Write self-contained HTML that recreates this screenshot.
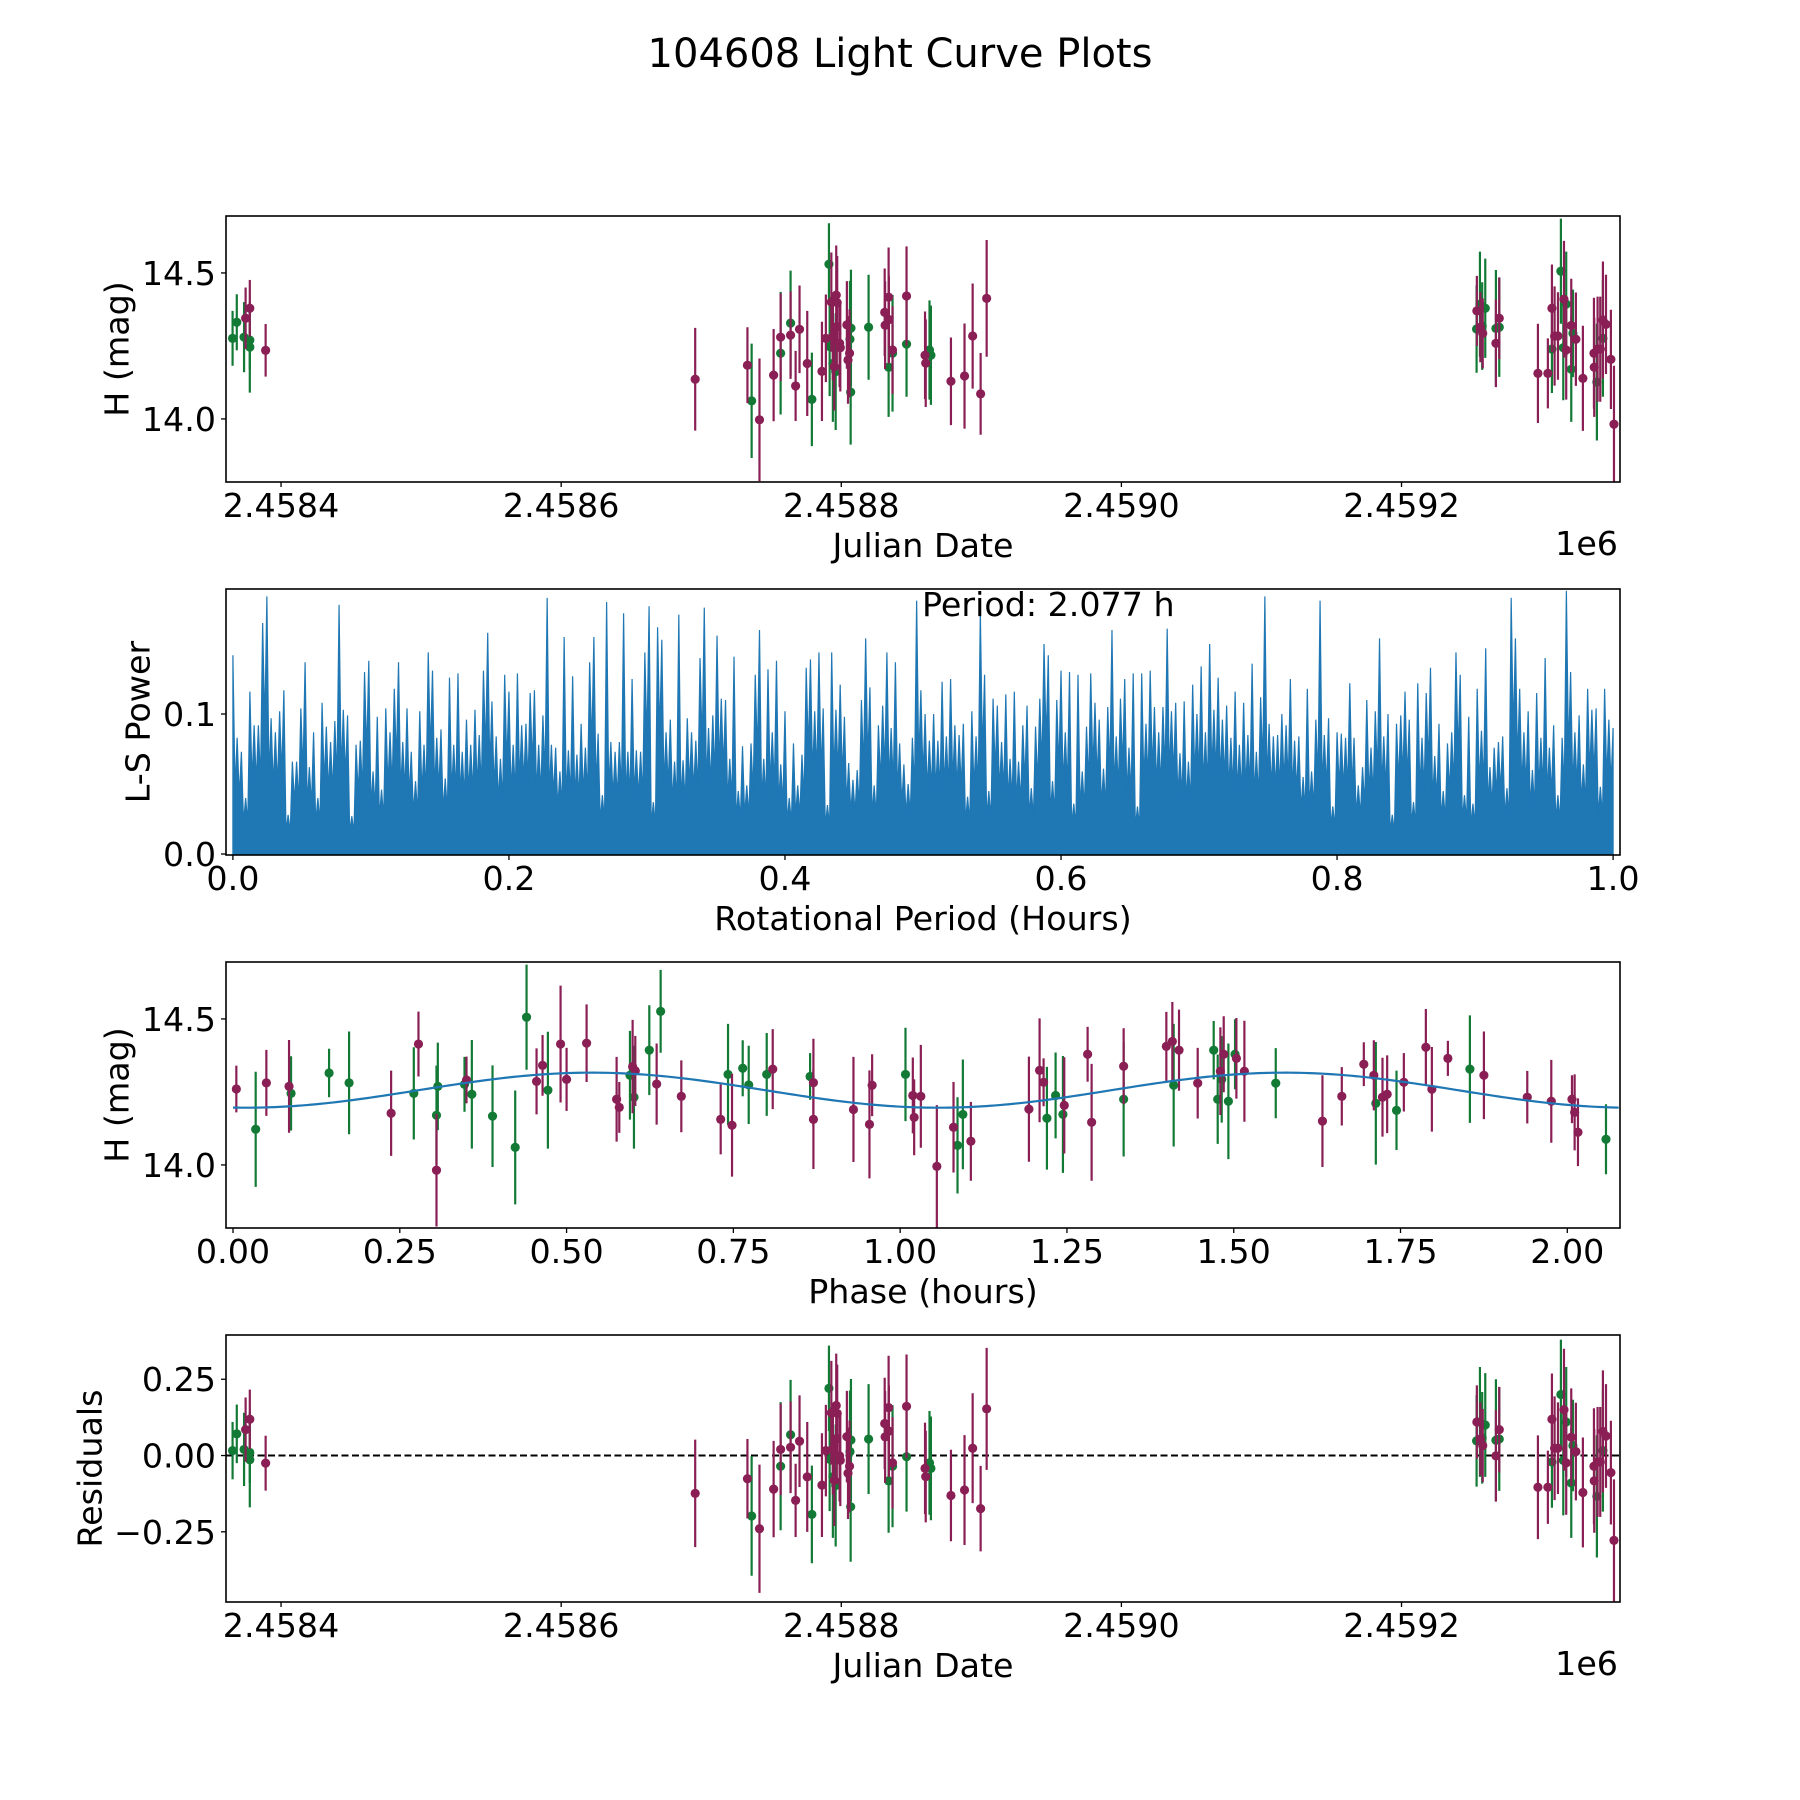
<!DOCTYPE html>
<html><head><meta charset="utf-8"><title>104608 Light Curve Plots</title>
<style>
html,body{margin:0;padding:0;background:#fff;}
svg{display:block;font-family:"DejaVu Sans","Liberation Sans",sans-serif;}
</style></head>
<body>
<svg id="fig" xmlns="http://www.w3.org/2000/svg" width="1800" height="1800" viewBox="0 0 1800 1800">
<rect x="0" y="0" width="1800" height="1800" fill="#fff"/>
<text x="900" y="67" font-size="40" text-anchor="middle">104608 Light Curve Plots</text>
</svg>
<script>
// ---------- data: light curve (Julian Date) ----------
const jdGreen = [2458365.4,2458368.4,2458373.6,2458377.7,2458377.7,2458736,2458756.7,2458763.8,2458779,2458791.2,2458791.7,2458794,2458796,2458806.9,2458806.2,2458806.7,2458819.5,2458833.8,2458836.6,2458846.6,2458863,2458864,2459253.6,2459256,2459257.6,2459259.8,2459267.4,2459269.8,2459307.4,2459313.8,2459315.5,2459317.6,2459321.2,2459322.4,2459339.5,2459343.8];
const magGreen = [14.276,14.331,14.28,14.27,14.246,14.062,14.225,14.328,14.067,14.53,14.248,14.19,14.162,14.311,14.273,14.092,14.314,14.177,14.225,14.256,14.236,14.218,14.308,14.393,14.318,14.379,14.31,14.314,14.239,14.506,14.244,14.393,14.17,14.293,14.126,14.276];
const errGreen = [0.094,0.096,0.12,0.10,0.156,0.196,0.21,0.18,0.16,0.14,0.17,0.2,0.2,0.2,0.2,0.18,0.18,0.17,0.2,0.18,0.17,0.17,0.15,0.18,0.15,0.17,0.2,0.17,0.15,0.18,0.18,0.18,0.18,0.15,0.2,0.2];
const jdPurple = [2458374.7,2458377.7,2458389,2458695.7,2458733,2458741.6,2458751.7,2458756.7,2458763.8,2458767.4,2458770.2,2458775.7,2458786.2,2458789,2458792.9,2458794,2458795,2458796.4,2458797.1,2458796.8,2458798.8,2458799.3,2458804,2458804.8,2458805.9,2458831,2458831.3,2458833.8,2458834,2458836.6,2458846.6,2458859.8,2458860.3,2458878.3,2458888,2458893.8,2458899.5,2458903.8,2459253.8,2459256.3,2459258,2459267.4,2459269.8,2459297.4,2459304.5,2459307.4,2459309.3,2459311.7,2459316,2459317.6,2459321.2,2459324.5,2459329.5,2459337.4,2459337.6,2459340,2459341.9,2459343.8,2459346,2459349.5,2459351.7];
const magPurple = [14.345,14.379,14.235,14.136,14.184,13.997,14.15,14.28,14.287,14.113,14.307,14.19,14.163,14.276,14.40,14.282,14.179,14.424,14.398,14.316,14.259,14.244,14.322,14.202,14.225,14.365,14.321,14.417,14.34,14.236,14.421,14.218,14.191,14.129,14.147,14.284,14.086,14.413,14.370,14.314,14.293,14.259,14.345,14.156,14.156,14.379,14.284,14.284,14.41,14.236,14.32,14.273,14.139,14.225,14.177,14.239,14.239,14.339,14.324,14.204,13.982];
const errPurple = [0.105,0.097,0.09,0.176,0.13,0.21,0.158,0.15,0.15,0.12,0.15,0.18,0.17,0.15,0.17,0.15,0.15,0.17,0.16,0.15,0.15,0.15,0.15,0.15,0.15,0.15,0.15,0.17,0.15,0.15,0.17,0.15,0.15,0.15,0.18,0.18,0.14,0.2,0.12,0.12,0.12,0.15,0.14,0.17,0.12,0.15,0.17,0.15,0.2,0.17,0.16,0.16,0.18,0.19,0.17,0.18,0.18,0.2,0.17,0.17,0.2];
// ---------- data: residuals ----------
const residGreen = [0.016,0.071,0.02,0.01,-0.014,-0.198,-0.035,0.068,-0.193,0.22,-0.012,-0.07,-0.098,0.051,0.013,-0.168,0.054,-0.083,-0.035,-0.004,-0.024,-0.042,0.048,0.11,0.058,0.10,0.05,0.054,-0.021,0.20,-0.016,0.11,-0.09,0.033,-0.134,0.016];
const residPurple = [0.085,0.119,-0.025,-0.124,-0.076,-0.24,-0.11,0.02,0.027,-0.147,0.047,-0.07,-0.097,0.016,0.14,0.022,-0.081,0.164,0.138,0.056,-0.001,-0.016,0.062,-0.058,-0.035,0.105,0.061,0.157,0.08,-0.024,0.161,-0.042,-0.069,-0.131,-0.113,0.024,-0.174,0.153,0.11,0.054,0.033,-0.001,0.085,-0.104,-0.104,0.119,0.024,0.024,0.15,-0.024,0.06,0.013,-0.121,-0.035,-0.083,-0.021,-0.021,0.079,0.064,-0.056,-0.278];
// ---------- data: phased light curve ----------
const phaseGreen = [0.034,0.087,0.144,0.174,0.271,0.305,0.307,0.347,0.358,0.389,0.423,0.44,0.472,0.595,0.601,0.624,0.641,0.742,0.764,0.773,0.8,0.865,1.008,1.086,1.094,1.22,1.233,1.244,1.335,1.41,1.47,1.476,1.482,1.492,1.502,1.563,1.713,1.744,1.854,2.058];
const phMagGreen = [14.122,14.245,14.315,14.281,14.245,14.17,14.269,14.276,14.242,14.167,14.06,14.506,14.256,14.307,14.232,14.393,14.526,14.31,14.331,14.274,14.31,14.303,14.31,14.067,14.173,14.16,14.238,14.173,14.225,14.273,14.393,14.225,14.293,14.218,14.379,14.28,14.211,14.187,14.328,14.088];
const phErrGreen = [0.197,0.127,0.083,0.176,0.158,0.17,0.15,0.094,0.186,0.174,0.195,0.18,0.2,0.152,0.176,0.154,0.142,0.173,0.096,0.134,0.142,0.08,0.16,0.165,0.188,0.176,0.147,0.2,0.196,0.21,0.1,0.153,0.148,0.198,0.12,0.12,0.21,0.136,0.184,0.12];
const phasePurple = [0.005,0.05,0.084,0.237,0.278,0.305,0.35,0.455,0.464,0.491,0.5,0.53,0.575,0.579,0.599,0.603,0.635,0.672,0.731,0.748,0.809,0.87,0.87,0.93,0.954,0.958,1.019,1.021,1.031,1.055,1.08,1.106,1.193,1.209,1.215,1.246,1.281,1.287,1.335,1.399,1.408,1.418,1.446,1.48,1.485,1.504,1.516,1.633,1.662,1.695,1.71,1.723,1.73,1.755,1.788,1.797,1.821,1.875,1.94,1.976,2.007,2.011,2.016];
const phMagPurple = [14.26,14.281,14.269,14.177,14.414,13.982,14.291,14.286,14.341,14.414,14.293,14.417,14.225,14.197,14.337,14.322,14.277,14.235,14.156,14.136,14.328,14.282,14.156,14.19,14.139,14.273,14.238,14.163,14.235,13.995,14.129,14.081,14.191,14.324,14.283,14.204,14.379,14.146,14.338,14.406,14.423,14.393,14.28,14.321,14.379,14.365,14.321,14.15,14.235,14.345,14.307,14.232,14.242,14.283,14.403,14.259,14.365,14.307,14.232,14.218,14.225,14.18,14.112];
const phErrPurple = [0.08,0.113,0.159,0.146,0.111,0.193,0.08,0.113,0.104,0.2,0.108,0.133,0.145,0.087,0.16,0.12,0.139,0.123,0.12,0.176,0.137,0.15,0.17,0.18,0.185,0.106,0.13,0.13,0.176,0.21,0.155,0.135,0.18,0.178,0.082,0.165,0.094,0.2,0.13,0.118,0.135,0.139,0.121,0.15,0.13,0.138,0.173,0.157,0.1,0.075,0.12,0.135,0.133,0.1,0.131,0.145,0.06,0.15,0.09,0.142,0.082,0.13,0.116];
const modelMean = 14.256;
const modelAmp = 0.06;
const modelPeakPhase = 0.538;
const rotPeriod = 2.077;
// ---------- data: Lomb-Scargle periodogram (evenly sampled over 0..1 h) ----------
const lsPower = [0.142,0.083,0.073,0.040,0.116,0.092,0.092,0.165,0.184,0.097,0.087,0.102,0.117,0.028,0.066,0.066,0.104,0.137,0.062,0.087,0.040,0.108,0.091,0.080,0.095,0.178,0.103,0.099,0.027,0.078,0.081,0.130,0.138,0.059,0.098,0.046,0.104,0.087,0.118,0.137,0.080,0.104,0.073,0.052,0.102,0.078,0.144,0.131,0.083,0.089,0.054,0.126,0.078,0.129,0.073,0.096,0.078,0.103,0.085,0.131,0.158,0.109,0.084,0.068,0.128,0.116,0.078,0.129,0.092,0.093,0.115,0.117,0.078,0.099,0.183,0.078,0.076,0.059,0.155,0.074,0.127,0.071,0.093,0.076,0.137,0.155,0.086,0.042,0.180,0.080,0.073,0.080,0.172,0.073,0.125,0.074,0.073,0.144,0.177,0.037,0.162,0.153,0.087,0.096,0.066,0.171,0.067,0.097,0.087,0.081,0.140,0.176,0.090,0.099,0.156,0.111,0.110,0.068,0.141,0.045,0.077,0.049,0.079,0.128,0.160,0.068,0.132,0.087,0.138,0.064,0.102,0.040,0.079,0.049,0.071,0.133,0.139,0.102,0.144,0.104,0.035,0.144,0.103,0.121,0.098,0.065,0.053,0.060,0.110,0.154,0.119,0.049,0.092,0.106,0.144,0.090,0.137,0.079,0.064,0.050,0.083,0.181,0.117,0.100,0.081,
0.100,0.081,0.123,0.084,0.125,0.092,0.085,0.093,0.041,0.102,0.084,0.173,0.128,0.045,0.111,0.106,0.080,0.114,0.068,0.116,0.066,0.092,0.106,0.047,0.091,0.111,0.150,0.142,0.052,0.110,0.131,0.087,0.130,0.036,0.128,0.059,0.091,0.129,0.108,0.096,0.061,0.105,0.160,0.084,0.111,0.125,0.076,0.129,0.034,0.129,0.093,0.131,0.105,0.087,0.105,0.161,0.102,0.108,0.072,0.109,0.066,0.121,0.100,0.134,0.087,0.150,0.103,0.126,0.096,0.106,0.083,0.116,0.078,0.108,0.085,0.136,0.073,0.112,0.184,0.093,0.084,0.085,0.100,0.092,0.125,0.081,0.084,0.055,0.118,0.059,0.096,0.181,0.085,0.097,0.034,0.087,0.086,0.083,0.122,0.083,0.049,0.062,0.110,0.076,0.102,0.154,0.084,0.100,0.028,0.093,0.099,0.116,0.096,0.037,0.122,0.083,0.115,0.133,0.070,0.093,0.045,0.079,0.087,0.144,0.128,0.042,0.098,0.036,0.118,0.088,0.147,0.062,0.076,0.080,0.084,0.047,0.183,0.154,0.118,0.087,0.102,0.060,0.115,0.083,0.140,0.076,0.092,0.042,0.083,0.188,0.130,0.087,0.099,0.064,0.118,0.103,0.104,0.048,0.118,0.096,0.090];
// ---------- ticks ----------
const jdTicks = [2458400,2458600,2458800,2459000,2459200];
const jdTickLabels = ["2.4584","2.4586","2.4588","2.4590","2.4592"];
const magTicks = [14.0,14.5];
const magTickLabels = ["14.0","14.5"];
const periodTicks = [0,0.2,0.4,0.6,0.8,1.0];
const periodTickLabels = ["0.0","0.2","0.4","0.6","0.8","1.0"];
const powerTicks = [0,0.1];
const powerTickLabels = ["0.0","0.1"];
const phaseTicks = [0,0.25,0.5,0.75,1.0,1.25,1.5,1.75,2.0];
const phaseTickLabels = ["0.00","0.25","0.50","0.75","1.00","1.25","1.50","1.75","2.00"];
const residTicks = [-0.25,0,0.25];
const residTickLabels = ["\u22120.25","0.00","0.25"];

const NS = "http://www.w3.org/2000/svg";
const svg = document.getElementById('fig');
const GREEN = "#137a36", PURPLE = "#8a1f55", BLUE = "#1f77b4";
const L = 226, R = 1620;
function el(tag, attrs, parent){
  const e = document.createElementNS(NS, tag);
  for (const k in attrs) e.setAttribute(k, attrs[k]);
  (parent || svg).appendChild(e);
  return e;
}
function makeAxes(name, top, bottom, xmin, xmax, ymin, ymax){
  const g = el('g', {});
  
  
  const clipId = name + '-clip';
  const cp = el('clipPath', {id: clipId}, g);
  el('rect', {x: L, y: top, width: R - L, height: bottom - top}, cp);
  const sx = v => L + (v - xmin) / (xmax - xmin) * (R - L);
  const sy = v => bottom - (v - ymin) / (ymax - ymin) * (bottom - top);
  const plot = el('g', {'clip-path': 'url(#' + clipId + ')'}, g);
  
  
  return {g, plot, sx, sy, top, bottom};
}
function drawFrame(ax, name, xt, xtl, yt, ytl, xlabel, ylabel, ylabelX, offsetText){
  const fr = el('rect', {x: L, y: ax.top, width: R - L, height: ax.bottom - ax.top, fill: 'none', stroke: '#000', 'stroke-width': 1.6}, ax.g);
  
  
  xt.forEach((v, i) => {
    const x = ax.sx(v);
    const t = el('line', {x1: x, x2: x, y1: ax.bottom, y2: ax.bottom + 5, stroke: '#000', 'stroke-width': 1.3}, ax.g);
    
    
    const lb = el('text', {x: x, y: ax.bottom + 35, 'font-size': 33.3, 'text-anchor': 'middle'}, ax.g);
    lb.textContent = xtl[i];
    
    
  });
  yt.forEach((v, i) => {
    const y = ax.sy(v);
    const t = el('line', {x1: L - 5, x2: L, y1: y, y2: y, stroke: '#000', 'stroke-width': 1.3}, ax.g);
    
    
    const lb = el('text', {x: L - 10, y: y + 12, 'font-size': 33.3, 'text-anchor': 'end'}, ax.g);
    lb.textContent = ytl[i];
    
    
  });
  const xl = el('text', {x: (L + R) / 2, y: ax.bottom + 75, 'font-size': 33.3, 'text-anchor': 'middle'}, ax.g);
  xl.textContent = xlabel;
  
  
  const cy = (ax.top + ax.bottom) / 2;
  const yl = el('text', {x: ylabelX, y: cy, 'font-size': 33.3, 'text-anchor': 'middle', transform: 'rotate(-90 ' + ylabelX + ' ' + cy + ')', 'dominant-baseline': 'central'}, ax.g);
  yl.textContent = ylabel;
  
  
  if (offsetText){
    const ot = el('text', {x: R - 2, y: ax.bottom + 73, 'font-size': 33.3, 'text-anchor': 'end'}, ax.g);
    ot.textContent = offsetText;
    
    
  }
}
function drawErrorbars(ax, name, xs, ys, es, color){
  xs.forEach((xv, i) => {
    const x = ax.sx(xv);
    const bar = el('line', {x1: x, x2: x, y1: ax.sy(ys[i] - es[i]), y2: ax.sy(ys[i] + es[i]), stroke: color, 'stroke-width': 2.2}, ax.plot);
    
    
  });
  xs.forEach((xv, i) => {
    const c = el('circle', {cx: ax.sx(xv), cy: ax.sy(ys[i]), r: 4.6, fill: color}, ax.plot);
    
    
  });
}

// ---- Panel 1: light curve ----
const ax1 = makeAxes('light-curve-panel', 216, 482, 2458360.7, 2459356, 13.784, 14.695);
drawErrorbars(ax1, 'green-filter', jdGreen, magGreen, errGreen, GREEN);
drawErrorbars(ax1, 'purple-filter', jdPurple, magPurple, errPurple, PURPLE);
drawFrame(ax1, 'light-curve-panel', jdTicks, jdTickLabels, magTicks, magTickLabels, 'Julian Date', 'H (mag)', 117, '1e6');

// ---- Panel 2: periodogram ----
const ax2 = makeAxes('periodogram-panel', 589, 855, -0.005, 1.005, -0.0007, 0.1893);
{
  const n = lsPower.length;
  let d = 'M' + ax2.sx(0).toFixed(2) + ' ' + ax2.sy(0).toFixed(2);
  lsPower.forEach((p, i) => {
    const per = i / (n - 1);
    d += ' L' + ax2.sx(per).toFixed(2) + ' ' + ax2.sy(p).toFixed(2);
    if (i < n - 1){
      const mid = (i + 0.5) / (n - 1);
      const trough = Math.min(p, lsPower[i + 1]) * 0.55;
      d += ' L' + ax2.sx(mid).toFixed(2) + ' ' + ax2.sy(trough).toFixed(2);
    }
  });
  d += ' L' + ax2.sx(1).toFixed(2) + ' ' + ax2.sy(0).toFixed(2) + ' Z';
  const area = el('path', {d: d, fill: BLUE, stroke: BLUE, 'stroke-width': 1.2, 'stroke-linejoin': 'miter'}, ax2.plot);
  
  
}
drawFrame(ax2, 'periodogram-panel', periodTicks, periodTickLabels, powerTicks, powerTickLabels, 'Rotational Period (Hours)', 'L-S Power', 138, null);
{
  const pt = el('text', {x: 922, y: 616, 'font-size': 33.3}, ax2.g);
  pt.textContent = 'Period: ' + rotPeriod.toFixed(3) + ' h';
  
  
}

// ---- Panel 3: phased light curve ----
const ax3 = makeAxes('phase-panel', 962, 1228, -0.0105, 2.079, 13.784, 14.695);
drawErrorbars(ax3, 'phase-green', phaseGreen, phMagGreen, phErrGreen, GREEN);
drawErrorbars(ax3, 'phase-purple', phasePurple, phMagPurple, phErrPurple, PURPLE);
{
  let d = '';
  const steps = 300;
  for (let k = 0; k <= steps; k++){
    const ph = rotPeriod * k / steps;
    const m = modelMean + modelAmp * Math.cos(2 * Math.PI * (ph - modelPeakPhase) / (rotPeriod / 2));
    d += (k ? ' L' : 'M') + ax3.sx(ph).toFixed(2) + ' ' + ax3.sy(m).toFixed(2);
  }
  const fit = el('path', {d: d, fill: 'none', stroke: BLUE, 'stroke-width': 2.2}, ax3.plot);
  
  
}
drawFrame(ax3, 'phase-panel', phaseTicks, phaseTickLabels, magTicks, magTickLabels, 'Phase (hours)', 'H (mag)', 117, null);

// ---- Panel 4: residuals ----
const ax4 = makeAxes('residuals-panel', 1335, 1602, 2458360.7, 2459356, -0.48, 0.395);
{
  const z = el('line', {x1: L, x2: R, y1: ax4.sy(0), y2: ax4.sy(0), stroke: '#000', 'stroke-width': 2, 'stroke-dasharray': '7,3.5'}, ax4.plot);
  
  
}
drawErrorbars(ax4, 'resid-green', jdGreen, residGreen, errGreen, GREEN);
drawErrorbars(ax4, 'resid-purple', jdPurple, residPurple, errPurple, PURPLE);
drawFrame(ax4, 'residuals-panel', jdTicks, jdTickLabels, residTicks, residTickLabels, 'Julian Date', 'Residuals', 90, '1e6');
</script>
</body></html>
